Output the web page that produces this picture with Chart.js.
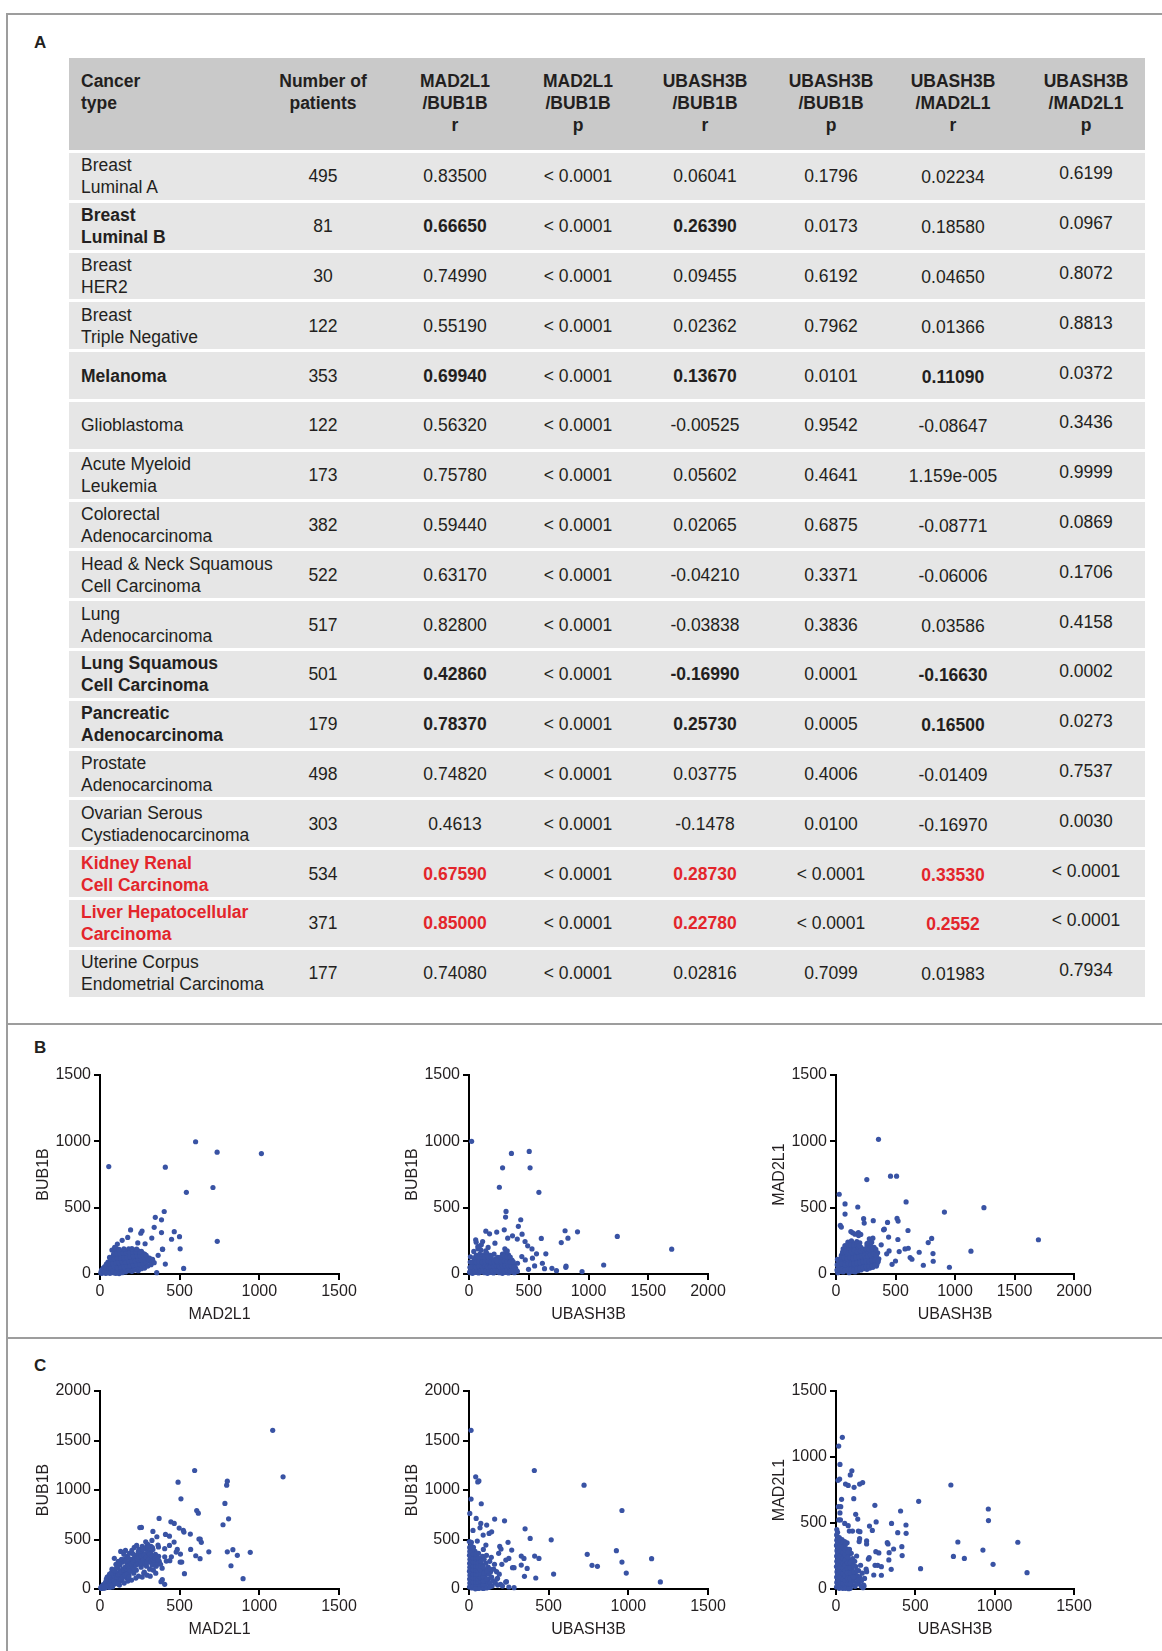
<!DOCTYPE html>
<html>
<head>
<meta charset="utf-8">
<script src="https://cdn.jsdelivr.net/npm/chart.js@4.4.0/dist/chart.umd.min.js"></script>
<style>
  body { margin: 0; background: #fff; font-family: "Liberation Sans", Arial, sans-serif; color: #231f20; }
  #page { position: relative; width: 1162px; height: 1651px; overflow: hidden; }
  .hline { position: absolute; left: 6px; right: 0; height: 0; border-top: 2px solid #9d9d9d; }
  .vline { position: absolute; left: 6px; top: 13px; bottom: 0; width: 0; border-left: 2px solid #9d9d9d; }
  .panel { position: absolute; font-weight: bold; font-size: 17px; line-height: 20px; }
  .row { position: absolute; left: 69px; width: 1076px; background: #e6e6e6; }
  .head { position: absolute; left: 69px; top: 58px; width: 1076px; height: 92px; background: #c9c9c9; }
  .cell { position: absolute; top: 0; bottom: 0; display: flex; align-items: center; justify-content: center;
          text-align: center; font-size: 17.5px; line-height: 22px; white-space: pre; }
  .head .cell { align-items: flex-start; padding-top: 12px; font-weight: bold; box-sizing: border-box; }
  .first { justify-content: flex-start; text-align: left; padding-left: 12px; box-sizing: border-box; }
  .b { font-weight: bold; }
  .red { color: #e3252b; font-weight: bold; }
  canvas { position: absolute; }
</style>
</head>
<body>
<div id="page">
  <div class="hline" style="top:13px"></div>
  <div class="vline"></div>
  <div class="hline" style="top:1023px"></div>
  <div class="hline" style="top:1337px"></div>
  <div class="panel" style="left:34px; top:33px">A</div>
  <div class="panel" style="left:34px; top:1038px">B</div>
  <div class="panel" style="left:34px; top:1356px">C</div>
  <div id="table"></div>
  <canvas id="b1" width="330" height="264" style="left:31px; top:1060px"></canvas>
  <canvas id="b2" width="330" height="264" style="left:400px; top:1060px"></canvas>
  <canvas id="b3" width="329" height="264" style="left:767px; top:1060px"></canvas>
  <canvas id="c1" width="330" height="263" style="left:31px; top:1376px"></canvas>
  <canvas id="c2" width="330" height="263" style="left:400px; top:1376px"></canvas>
  <canvas id="c3" width="329" height="263" style="left:767px; top:1376px"></canvas>
</div>
<script>
// ---- table A ----
var headers = ["Cancer\ntype", "Number of\npatients", "MAD2L1\n/BUB1B\nr", "MAD2L1\n/BUB1B\np",
  "UBASH3B\n/BUB1B\nr", "UBASH3B\n/BUB1B\np", "UBASH3B\n/MAD2L1\nr", "UBASH3B\n/MAD2L1\np"];
var cancerType = ["Breast\nLuminal A", "Breast\nLuminal B", "Breast\nHER2", "Breast\nTriple Negative",
  "Melanoma", "Glioblastoma", "Acute Myeloid\nLeukemia", "Colorectal\nAdenocarcinoma",
  "Head & Neck Squamous\nCell Carcinoma", "Lung\nAdenocarcinoma", "Lung Squamous\nCell Carcinoma",
  "Pancreatic\nAdenocarcinoma", "Prostate\nAdenocarcinoma", "Ovarian Serous\nCystiadenocarcinoma",
  "Kidney Renal\nCell Carcinoma", "Liver Hepatocellular\nCarcinoma", "Uterine Corpus\nEndometrial Carcinoma"];
var patients = ["495", "81", "30", "122", "353", "122", "173", "382", "522", "517", "501", "179", "498", "303", "534", "371", "177"];
var madBubR = ["0.83500", "0.66650", "0.74990", "0.55190", "0.69940", "0.56320", "0.75780", "0.59440", "0.63170",
  "0.82800", "0.42860", "0.78370", "0.74820", "0.4613", "0.67590", "0.85000", "0.74080"];
var madBubP = ["< 0.0001", "< 0.0001", "< 0.0001", "< 0.0001", "< 0.0001", "< 0.0001", "< 0.0001", "< 0.0001", "< 0.0001",
  "< 0.0001", "< 0.0001", "< 0.0001", "< 0.0001", "< 0.0001", "< 0.0001", "< 0.0001", "< 0.0001"];
var ubaBubR = ["0.06041", "0.26390", "0.09455", "0.02362", "0.13670", "-0.00525", "0.05602", "0.02065", "-0.04210",
  "-0.03838", "-0.16990", "0.25730", "0.03775", "-0.1478", "0.28730", "0.22780", "0.02816"];
var ubaBubP = ["0.1796", "0.0173", "0.6192", "0.7962", "0.0101", "0.9542", "0.4641", "0.6875", "0.3371",
  "0.3836", "0.0001", "0.0005", "0.4006", "0.0100", "< 0.0001", "< 0.0001", "0.7099"];
var ubaMadR = ["0.02234", "0.18580", "0.04650", "0.01366", "0.11090", "-0.08647", "1.159e-005", "-0.08771", "-0.06006",
  "0.03586", "-0.16630", "0.16500", "-0.01409", "-0.16970", "0.33530", "0.2552", "0.01983"];
var ubaMadP = ["0.6199", "0.0967", "0.8072", "0.8813", "0.0372", "0.3436", "0.9999", "0.0869", "0.1706",
  "0.4158", "0.0002", "0.0273", "0.7537", "0.0030", "< 0.0001", "< 0.0001", "0.7934"];
// emphasis: "" plain, "b" bold, "red" red bold; for name and the three r columns
var rowEmph = ["", "b", "", "", "b", "", "", "", "", "", "b", "b", "", "", "red", "red", ""];
var rEmph = [[0,0,0],[1,1,0],[0,0,0],[0,0,0],[1,1,1],[0,0,0],[0,0,0],[0,0,0],[0,0,0],
  [0,0,0],[1,1,1],[1,1,1],[0,0,0],[0,0,0],[1,1,1],[1,1,1],[0,0,0]];

var colEdges = [0, 196, 312, 460, 558, 714, 810, 958, 1076];
var colShift = [0, 0, 0, 0, 0, 0, 1, -3];

function addCell(parent, i, text, cls) {
  var d = document.createElement("div");
  d.className = "cell" + (i === 0 ? " first" : "");
  d.style.left = colEdges[i] + "px";
  d.style.width = (colEdges[i + 1] - colEdges[i]) + "px";
  var s = document.createElement("span");
  s.textContent = text;
  if (cls) s.className = cls;
  if (colShift[i]) { s.style.position = "relative"; s.style.top = colShift[i] + "px"; }
  d.appendChild(s);
  parent.appendChild(d);
}

var tbl = document.getElementById("table");
var head = document.createElement("div");
head.className = "head";
for (var h = 0; h < headers.length; h++) {
  var d = document.createElement("div");
  d.className = "cell" + (h === 0 ? " first" : "");
  d.style.left = colEdges[h] + "px";
  d.style.width = (colEdges[h + 1] - colEdges[h]) + "px";
  d.textContent = headers[h];
  head.appendChild(d);
}
tbl.appendChild(head);

for (var r = 0; r < cancerType.length; r++) {
  var row = document.createElement("div");
  row.className = "row";
  row.style.top = (153 + r * 49.8) + "px";
  row.style.height = "46.8px";
  var e = rowEmph[r];
  var cols = [cancerType[r], patients[r], madBubR[r], madBubP[r], ubaBubR[r], ubaBubP[r], ubaMadR[r], ubaMadP[r]];
  for (var c = 0; c < cols.length; c++) {
    var cls = "";
    if (c === 0) cls = e;
    if (c === 2 && rEmph[r][0]) cls = e;
    if (c === 4 && rEmph[r][1]) cls = e;
    if (c === 6 && rEmph[r][2]) cls = e;
    addCell(row, c, cols[c], cls);
  }
  tbl.appendChild(row);
}

// ---- scatter data (x, y) ----
var b1Points = [
  [55,810],[410,805],[600,997],[735,918],[1013,908],[542,616],[709,652],[736,246],[525,42],
  [403,471],[347,427],[386,408],[466,319],[499,281],[449,262],[503,190],[386,312],[392,187],
  [410,75],[356,10],[325,271],[192,332],[340,352],[264,324],[256,307],[174,276],[139,254],
  [109,226],[92,201],[283,228],[237,234],[393,186],[365,141],[310,118],[286,60],[268,156],
  [5,8],[20,12],[35,5],[50,15],[70,10],[90,8],[110,12],[130,20],[150,25],
  [10,30],[25,35],[40,28],[60,32],[80,30],[100,35],[120,38],[140,40],[160,45],[180,50],[200,55],
  [30,55],[45,62],[65,58],[85,65],[105,60],[125,68],[145,70],[165,72],[185,78],[205,80],[225,85],[245,90],[265,95],
  [50,90],[70,95],[90,100],[110,98],[130,105],[150,102],[170,108],[190,110],[210,112],[230,118],[250,120],
  [270,125],[290,130],[310,120],[330,110],
  [60,125],[80,130],[100,135],[120,140],[140,138],[160,145],[180,142],[200,150],[220,155],[240,160],[260,158],[280,150],
  [90,165],[115,170],[140,175],[165,172],[190,178],[215,180],[240,175],[260,170],
  [75,180],[100,195],[180,190],[300,100],[320,90],[290,70],[270,60],[250,40],[230,50],[210,30],
  [15,20],[30,18],[45,22],[60,20],[75,22],[95,20],[115,25],[135,28],[155,32],[175,35],[195,40],[215,45],[235,55],
  [20,45],[35,48],[55,45],[70,48],[90,50],[110,48],[130,52],[150,55],[170,58],[190,62],[210,68],[230,72],
  [250,75],[270,80],[290,85],
  [40,75],[60,78],[80,80],[100,82],[120,85],[140,88],[160,90],[180,92],[200,96],[220,100],[240,105],[260,108],
  [280,110],[300,115],
  [70,112],[90,115],[110,118],[130,120],[150,122],[170,125],[190,130],[210,135],[230,138],[250,140],[270,140],[290,140],
  [85,148],[105,152],[125,155],[145,158],[165,160],[185,162],[205,165],[225,168],[250,165],
  [120,185],[150,190],[200,192],[230,188],
  [8,22],[12,5],[28,15],[42,8],[62,5],[80,18],[100,5],[120,3],[140,10],[160,15],[180,25],[200,20],[220,30],
  [240,25],[260,40],[280,45],[300,60],[320,70],[340,85]
];
var b2Points = [
  [22,1000],[281,800],[355,909],[504,924],[511,800],[254,654],[585,616],[310,472],[306,429],
  [433,409],[295,333],[232,316],[413,359],[444,300],[804,326],[908,318],[772,237],[1241,283],
  [1696,187],[1127,68],[946,18],[810,50],[812,60],[732,25],[694,43],[828,270],[605,268],[643,152],
  [527,189],[491,212],[469,245],[565,152],[531,119],[614,81],[632,40],[549,61],[498,35],[471,106],
  [442,131],[406,81],[364,288],[324,270],[404,263],[141,323],[56,258],[114,245],[172,303],[217,232],
  [74,207],[103,220],
  [10,10],[30,5],[55,12],[80,8],[105,15],[130,10],[155,5],[180,12],[205,8],[230,15],[255,10],[280,5],
  [305,12],[330,8],[355,15],[380,10],[405,20],
  [15,40],[40,35],[65,45],[90,38],[115,42],[140,48],[165,35],[190,45],[215,40],[240,38],[265,45],[290,42],
  [315,48],[340,40],[365,38],[390,45],
  [25,75],[50,70],[75,80],[100,72],[125,78],[150,82],[175,70],[200,76],[225,80],[250,70],[275,78],[300,85],
  [325,75],[350,80],[375,70],
  [45,110],[70,105],[95,115],[120,108],[145,112],[170,118],[195,105],[220,112],[260,108],[285,115],[310,120],
  [335,110],[360,105],
  [60,140],[90,150],[120,145],[150,155],[180,140],[210,150],[280,150],[305,160],[330,145],
  [100,180],[140,175],[160,200],[300,190],[320,175],[75,190],[60,240],[40,170],[85,205],
  [20,25],[45,22],[70,28],[95,25],[120,30],[145,22],[170,28],[195,25],[220,30],[245,22],[270,28],[295,25],
  [320,30],[345,22],[370,28],[395,30],
  [30,58],[55,55],[80,60],[105,58],[130,62],[155,55],[180,60],[205,58],[230,62],[255,55],[280,60],[305,65],
  [330,58],[355,60],[380,55],
  [35,92],[60,90],[85,95],[110,90],[135,95],[160,98],[185,90],[210,95],[235,92],[270,95],[295,100],[320,95],
  [345,90],[370,92],
  [55,128],[80,125],[105,130],[130,128],[155,132],[185,128],[270,130],[295,135],[320,130],[345,128],
  [5,15],[8,50],[10,90],[12,130],[240,125],[230,100]
];
var b3Points = [
  [357,1015],[458,737],[509,737],[259,712],[27,601],[76,528],[76,452],[183,505],[589,543],[911,467],
  [1243,500],[1701,258],[1134,172],[953,51],[734,66],[817,96],[815,154],[804,268],[775,237],[699,164],
  [607,194],[580,189],[605,328],[513,419],[522,399],[433,389],[406,338],[400,333],[313,402],[232,417],
  [237,384],[36,366],[45,354],[188,313],[208,298],[446,174],[426,152],[531,169],[500,98],[471,73],
  [623,124],[638,111],[520,260],[442,278],[380,220],
  [15,10],[35,20],[60,15],[85,25],[110,10],[135,20],[160,15],[185,25],[210,30],[235,40],[260,35],[285,45],
  [310,50],[340,60],
  [20,50],[40,60],[65,45],[90,55],[115,60],[140,50],[165,58],[190,62],[215,70],[240,75],[265,70],[290,80],
  [315,85],[345,75],
  [30,95],[55,100],[80,90],[105,105],[130,95],[155,100],[180,110],[205,105],[230,115],[255,120],[280,110],
  [305,125],[330,130],[360,115],
  [45,140],[70,150],[95,135],[120,145],[145,155],[170,140],[195,150],[220,160],[245,165],[270,155],[300,170],
  [325,175],[350,160],
  [60,190],[85,200],[110,185],[135,195],[160,205],[185,190],[210,200],[260,210],[290,215],[320,200],
  [100,240],[130,250],[150,230],[175,245],[200,235],[280,265],[310,270],
  [140,310],[160,300],[190,290],[125,320],[260,230],
  [25,32],[50,35],[75,30],[100,38],[125,35],[150,32],[175,40],[200,45],[225,50],[250,55],[275,58],[300,62],[325,65],
  [25,72],[50,78],[75,70],[100,80],[125,75],[150,78],[175,82],[200,85],[225,92],[250,95],[275,92],[300,100],
  [325,105],[355,95],
  [40,118],[65,122],[90,115],[115,125],[140,120],[165,125],[190,130],[215,135],[240,140],[265,135],[290,145],
  [315,150],[340,140],
  [55,165],[80,170],[105,162],[130,170],[155,178],[180,168],[205,175],[230,185],[255,188],[280,185],[305,190],[335,185],
  [75,215],[100,220],[125,222],[150,218],[175,225],[195,215],[270,235],[300,240],
  [8,30],[10,70],[12,110]
];
var c1Points = [
  [1084,1603],[1149,1133],[594,1197],[490,1079],[795,1049],[799,1089],[508,911],[784,864],[607,793],
  [617,766],[807,709],[772,649],[371,713],[260,622],[445,679],[466,662],[497,615],[523,592],[527,575],
  [567,555],[636,471],[621,504],[629,504],[683,376],[569,400],[601,336],[628,306],[799,376],[834,397],
  [862,340],[943,370],[822,235],[898,104],[530,155],[503,272],[513,272],[505,353],[485,400],[436,534],
  [411,551],[436,440],[465,474],[478,373],[448,326],[438,286],[406,407],[406,326],[332,582],[326,491],
  [357,528],[364,444],[367,424],[416,282],[352,235],[383,74],[406,47],[391,94],[329,417],[319,376],
  [295,437],[285,407],[287,477],
  [8,5],[15,20],[22,8],[28,35],[35,15],[40,50],[45,25],[52,60],[58,30],[62,80],[68,45],[72,100],[78,20],
  [82,70],[88,120],[92,50],[98,95],[102,140],[108,75],[112,160],[118,110],[122,40],[128,180],[132,130],
  [138,85],[142,200],[148,150],[152,60],[158,220],[162,170],[168,110],[172,250],[178,190],[182,140],
  [188,270],[192,210],[198,90],[202,300],[208,240],[212,160],[218,320],[222,260],[228,190],[232,340],
  [238,280],[242,130],[248,360],[252,300],[258,220],[262,380],[268,320],[272,250],[278,170],[282,350],
  [288,290],[292,230],[298,390],[302,330],[308,270],[312,200],[318,360],[322,300],[328,240],[332,400],
  [338,320],[342,270],[348,350],[352,230],[358,300],[362,260],[368,330],[372,280],
  [20,45],[35,70],[50,90],[65,120],[80,150],[95,175],[110,210],[125,240],[140,270],[155,300],[170,330],
  [185,360],[200,390],[215,420],[90,310],[130,380],[160,390],[150,350],[115,280],[60,150],[75,200],
  [45,120],[100,250],[230,440],[245,400],[265,430],[285,410],[300,450],[320,430],[250,620],[275,160],
  [295,140],[335,190],[315,130],[350,160],[380,250],[390,210],[30,10],[60,15],[120,70],[175,80],
  [225,110],[265,120],
  [5,15],[12,30],[18,12],[25,25],[32,45],[38,28],[42,70],[48,40],[55,85],[60,55],[66,95],[70,35],[75,110],
  [85,90],[90,135],[95,60],[105,120],[110,55],[115,140],[125,150],[130,100],[135,170],[145,120],[150,190],
  [155,140],[165,200],[170,150],[175,230],[180,120],[185,210],[190,180],[195,255],[205,210],[210,270],
  [215,200],[220,290],[225,240],[235,300],[240,250],[245,320],[255,270],[260,330],[270,290],[275,340],
  [280,260],[290,320],[295,270],[305,300],[310,350],[320,280],[325,330],[335,290],[345,310],[355,320],[365,300],
  [40,100],[55,130],[70,160],[85,190],[105,220],[120,260],[135,300],[160,280],[180,310],[210,350],[240,380],
  [270,400],[300,420]
];
var c2Points = [
  [13,1603],[42,1133],[55,1082],[62,1092],[13,908],[77,861],[5,763],[45,713],[74,662],[69,618],[89,545],
  [111,646],[126,561],[142,578],[161,706],[223,689],[410,1197],[722,1049],[960,793],[352,608],[384,511],
  [516,497],[742,350],[925,387],[960,272],[1146,306],[987,161],[1201,71],[772,239],[806,229],[531,151],
  [419,111],[412,333],[439,309],[345,309],[348,128],[365,208],[328,333],[328,242],[273,215],[283,215],
  [268,393],[245,471],[193,430],[201,403],[186,360],[231,292],[250,309],[206,249],[235,74],[283,13],
  [198,47],[179,108],[173,175],[136,175],[106,444],[52,484],[25,592],[15,471],
  [3,20],[5,60],[4,100],[6,140],[3,180],[5,220],[4,260],[6,300],[3,340],[5,380],[4,420],[2,480],
  [18,10],[20,50],[22,90],[19,130],[21,170],[20,210],[18,250],[22,290],[20,330],[19,370],[21,400],
  [35,15],[33,55],[36,95],[34,135],[37,175],[35,215],[33,255],[36,295],[34,335],[38,380],
  [50,5],[48,45],[52,85],[50,125],[49,165],[51,205],[50,245],[48,285],[52,325],
  [65,20],[63,60],[67,100],[65,140],[64,180],[66,220],[65,260],[68,300],
  [80,10],[82,50],[79,90],[81,130],[80,170],[83,210],[78,250],[85,330],[90,400],
  [100,25],[98,70],[102,110],[99,150],[101,190],[105,260],[95,300],[110,340],
  [120,15],[118,60],[122,100],[125,150],[120,220],[130,280],[140,320],
  [145,30],[150,80],[142,120],[155,200],[160,250],[165,60],[175,100],[180,40],[210,30],[230,70],[250,20],[190,150],
  [10,30],[12,80],[10,120],[12,160],[10,200],[12,240],[10,280],[12,320],[10,360],[12,440],
  [27,30],[28,70],[27,110],[28,150],[27,190],[28,230],[27,270],[28,310],[27,350],[28,420],
  [42,30],[43,70],[42,110],[43,150],[42,190],[43,230],[42,270],[43,310],[42,350],
  [57,25],[58,65],[57,105],[58,145],[57,185],[58,225],[57,265],[58,310],[60,360],
  [72,35],[73,75],[72,115],[73,155],[72,195],[73,235],[75,280],
  [90,40],[90,80],[90,120],[92,160],[90,220],[110,100],[112,180],[130,60],[132,200],[90,5],[110,10],[130,20],
  [60,5],[40,2]
];
var c3Points = [
  [40,1149],[17,1083],[25,944],[23,833],[13,823],[90,864],[100,896],[60,795],[77,785],[114,770],[149,795],
  [168,806],[35,679],[112,684],[15,624],[30,624],[25,576],[124,566],[137,530],[17,523],[28,523],[55,497],
  [77,480],[104,439],[141,439],[151,434],[84,439],[245,634],[253,508],[211,477],[229,444],[350,497],
  [389,427],[407,591],[441,485],[442,422],[521,664],[724,788],[960,606],[961,518],[1146,354],[1204,124],
  [990,187],[926,295],[768,356],[740,247],[809,232],[533,154],[348,149],[333,220],[335,275],[323,351],
  [328,341],[363,303],[415,321],[417,253],[286,104],[286,169],[246,179],[263,179],[251,283],[270,273],
  [193,364],[193,341],[204,227],[209,237],[238,106],[193,131],[146,359],[149,381],[176,20],
  [3,15],[5,50],[4,90],[6,130],[3,170],[5,210],[4,250],[6,290],[3,330],[5,370],[4,410],[5,450],
  [20,5],[18,35],[22,70],[19,110],[21,150],[20,190],[18,230],[22,270],[20,310],[19,350],[21,390],
  [35,20],[33,55],[37,95],[34,135],[36,175],[35,215],[33,255],[36,295],[34,335],[38,375],
  [50,10],[48,45],[52,80],[50,120],[49,160],[51,200],[50,240],[48,280],[52,320],[55,360],
  [65,25],[63,65],[67,105],[65,145],[64,185],[66,225],[65,265],[68,305],[70,350],
  [80,15],[82,55],[79,95],[81,135],[80,175],[83,215],[78,255],[85,300],
  [100,30],[98,70],[102,110],[99,150],[101,190],[104,230],[96,270],[110,60],
  [120,20],[118,85],[122,125],[125,170],[118,210],[130,250],[135,100],
  [145,40],[150,90],[142,140],[155,180],[160,60],[165,120],[175,30],[180,80],[190,150],[170,10],[160,20],
  [10,30],[12,70],[10,110],[12,150],[10,190],[12,230],[10,270],[12,310],[10,350],[12,390],[10,430],
  [27,20],[28,55],[27,90],[28,130],[27,170],[28,210],[27,250],[28,290],[27,330],[28,370],
  [42,5],[43,40],[42,75],[43,115],[42,155],[43,195],[42,235],[43,275],[42,315],[43,355],
  [57,30],[58,65],[57,100],[58,140],[57,180],[58,220],[57,260],[58,300],[60,340],
  [72,40],[73,80],[72,120],[73,160],[72,200],[73,240],[75,280],
  [90,5],[90,40],[90,80],[92,120],[90,160],[90,200],[110,90],[112,130],[112,175],[130,40],[130,140],[140,70],
  [60,5],[80,2]
];

var plotIds = ["b1", "b2", "b3", "c1", "c2", "c3"];
var plotData = [b1Points, b2Points, b3Points, c1Points, c2Points, c3Points];
var xTitles = ["MAD2L1", "UBASH3B", "UBASH3B", "MAD2L1", "UBASH3B", "UBASH3B"];
var yTitles = ["BUB1B", "BUB1B", "MAD2L1", "BUB1B", "BUB1B", "MAD2L1"];
var xMaxes = [1500, 2000, 2000, 1500, 1500, 1500];
var yMaxes = [1500, 1500, 1500, 2000, 2000, 1500];

var ink = "#231f20";
var fontFam = "'Liberation Sans', Arial, sans-serif";
var plainTick = function(v) { return String(v); };

for (var p = 0; p < plotIds.length; p++) {
  var pts = plotData[p].map(function(v) { return {x: v[0], y: v[1]}; });
  new Chart(document.getElementById(plotIds[p]), {
    type: "scatter",
    data: {
      datasets: [{
        data: pts,
        pointRadius: 2.6,
        pointHoverRadius: 2.6,
        pointBackgroundColor: "#3953a4",
        pointBorderWidth: 0,
        clip: false
      }]
    },
    options: {
      responsive: false,
      animation: false,
      events: [],
      layout: { padding: { top: 15, right: 22, left: 0, bottom: 0 } },
      plugins: { legend: { display: false }, tooltip: { enabled: false } },
      scales: {
        x: {
          type: "linear", min: 0, max: xMaxes[p],
          afterFit: function(s) { s.height = 50; },
          border: { color: "#000", width: 2 },
          grid: { drawOnChartArea: false, drawTicks: true, tickLength: 6, color: "#000", lineWidth: 2 },
          ticks: { stepSize: 500, color: ink, padding: 2, maxRotation: 0, callback: plainTick,
                   font: { size: 16, family: fontFam } },
          title: { display: true, text: xTitles[p], color: ink, padding: 0, font: { size: 16, family: fontFam } }
        },
        y: {
          type: "linear", min: 0, max: yMaxes[p],
          afterFit: function(s) { s.width = 69; },
          border: { color: "#000", width: 2 },
          grid: { drawOnChartArea: false, drawTicks: true, tickLength: 6, color: "#000", lineWidth: 2 },
          ticks: { stepSize: 500, color: ink, padding: 3, callback: plainTick, font: { size: 16, family: fontFam } },
          title: { display: true, text: yTitles[p], color: ink, padding: { top: 3, bottom: 0 },
                   font: { size: 16, family: fontFam } }
        }
      }
    }
  });
}
</script>
</body>
</html>
